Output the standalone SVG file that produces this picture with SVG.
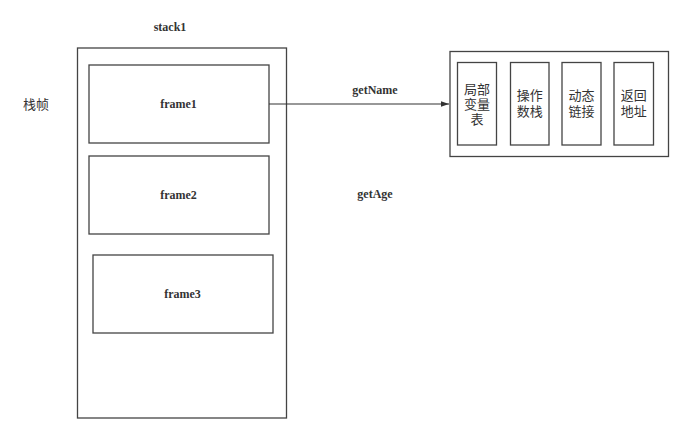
<svg xmlns="http://www.w3.org/2000/svg" width="690" height="437" viewBox="0 0 690 437">
<style>
.box{fill:#fff;stroke:#444;stroke-width:1.3}
.lbl{font-family:"Liberation Serif",serif;font-weight:bold;font-size:12px;fill:#333;text-anchor:middle}
.cjk{font-family:"Liberation Serif","Noto Sans CJK SC",serif;font-size:13px;fill:#333;text-anchor:middle}
.edge{stroke:#333;stroke-width:1.2;fill:none}
</style>
<defs>
<marker id="arr" viewBox="0 0 10 10" refX="10" refY="5" markerWidth="8" markerHeight="8" markerUnits="userSpaceOnUse" orient="auto">
<path d="M0,1.5 L10,5 L0,8.5 z" fill="#333"/>
</marker>
</defs>
<rect width="690" height="437" fill="#fff"/>
<text class="lbl" x="170" y="31">stack1</text>
<text class="cjk" x="36" y="109">栈帧</text>
<g id="stack1"><rect class="box" x="77.5" y="48" width="209" height="370"/></g>
<g id="frame1"><rect class="box" x="89" y="65" width="180" height="78"/><text class="lbl" x="178.5" y="108">frame1</text></g>
<g id="frame2"><rect class="box" x="89" y="156" width="180" height="78"/><text class="lbl" x="178.5" y="199">frame2</text></g>
<g id="frame3"><rect class="box" x="93" y="255" width="180" height="78"/><text class="lbl" x="182.5" y="298">frame3</text></g>
<g id="framebox"><rect class="box" x="450" y="51.5" width="218.5" height="105"/></g>
<g id="local"><rect class="box" x="457.5" y="62.5" width="39" height="82.5"/>
<text class="cjk" x="477" y="94">局部</text><text class="cjk" x="477" y="109">变量</text><text class="cjk" x="477" y="124">表</text></g>
<g id="operand"><rect class="box" x="510.5" y="62.5" width="38.5" height="82.5"/>
<text class="cjk" x="529.7" y="100">操作</text><text class="cjk" x="529.7" y="116">数栈</text></g>
<g id="dynlink"><rect class="box" x="562" y="62.5" width="39" height="82.5"/>
<text class="cjk" x="581.5" y="100">动态</text><text class="cjk" x="581.5" y="116">链接</text></g>
<g id="ret"><rect class="box" x="614" y="62.5" width="39.5" height="82.5"/>
<text class="cjk" x="633.7" y="100">返回</text><text class="cjk" x="633.7" y="116">地址</text></g>
<g id="connectors">
<line class="edge" x1="269" y1="104" x2="449" y2="104" marker-end="url(#arr)"/>
<text class="lbl" x="375" y="94">getName</text>
<text class="lbl" x="375" y="198">getAge</text>
</g>
</svg>
